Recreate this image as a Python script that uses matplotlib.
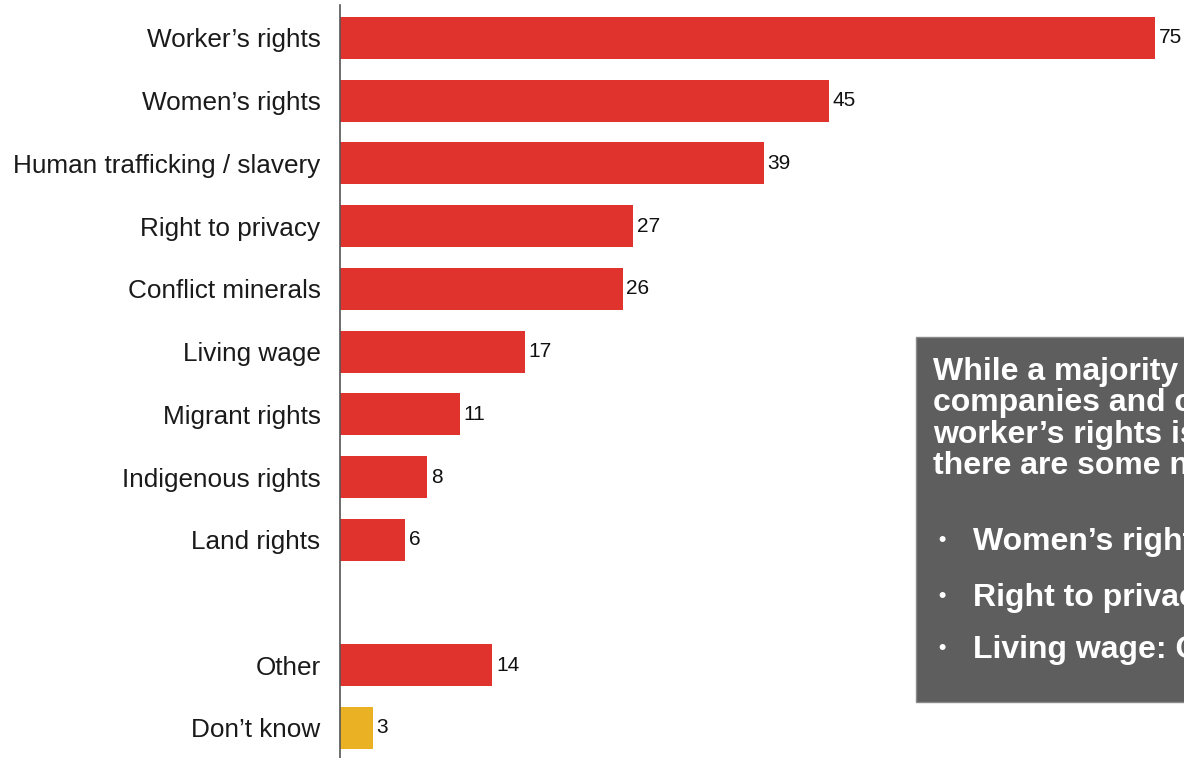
import matplotlib
matplotlib.use("Agg")
import matplotlib.pyplot as plt
from matplotlib.patches import Rectangle

# 数据
labels = ["Worker\u2019s rights", "Women\u2019s rights", "Human trafficking / slavery",
          "Right to privacy", "Conflict minerals", "Living wage", "Migrant rights",
          "Indigenous rights", "Land rights", "Other", "Don\u2019t know"]
values = [75, 45, 39, 27, 26, 17, 11, 8, 6, 14, 3]
rows = [0, 1, 2, 3, 4, 5, 6, 7, 8, 10, 11]

RED = "#E0332E"
GOLD = "#E9B123"
colors = [RED] * 10 + [GOLD]

sans = ["Liberation Sans", "DejaVu Sans"]

W, H = 1184, 758
fig = plt.figure(figsize=(W / 100, H / 100), dpi=100, facecolor="white")
ax = fig.add_axes([340 / W, 0, 1 - 340 / W, 1 - 5 / H])

ax.barh(rows, values, height=0.67, color=colors)
for r, v in zip(rows, values):
    ax.text(v + 0.35, r, str(v), va="center", ha="left", fontsize=15,
            family=sans, color="#111111")

ax.set_xlim(0, 844 / 10.87)
ax.set_ylim(11.48, -0.526)
ax.set_yticks(rows)
ax.set_yticklabels(labels, fontsize=18.8, family=sans, color="#1a1a1a")
ax.tick_params(axis="y", length=0, pad=14)
ax.set_xticks([])
for s in ["top", "right", "bottom"]:
    ax.spines[s].set_visible(False)
ax.spines["left"].set_color("#555555")
ax.spines["left"].set_linewidth(1.2)

# 右侧说明框 (超出画布右边缘)
box = Rectangle((916 / W, 1 - 702 / H), 400 / W, 365 / H, transform=fig.transFigure,
                facecolor="#5E5E5E", edgecolor="#8a8a8a", linewidth=1, zorder=5)
fig.patches.append(box)

intro = ["While a majority of", "companies and consumers", "worker\u2019s rights is the top issue,",
         "there are some notable gaps"]
for i, line in enumerate(intro):
    fig.text(933 / W, 1 - (380 + 31.4 * i) / H, line, color="white", fontsize=23,
             fontweight="bold", family=sans, va="baseline", ha="left", zorder=6)

bullets = ["Women\u2019s rights: 45 vs 70", "Right to privacy: 27 vs 60", "Living wage: Only 17"]
for y, line in zip([550, 606, 658], bullets):
    fig.text(942 / W, 1 - (y - 10) / H, "\u2022", color="white", fontsize=15, fontweight="bold",
             family=sans, va="center", ha="center", zorder=6)
    fig.text(973 / W, 1 - y / H, line, color="white", fontsize=23, fontweight="bold",
             family=sans, va="baseline", ha="left", zorder=6)

fig.savefig("out.png", dpi=100, facecolor="white")
